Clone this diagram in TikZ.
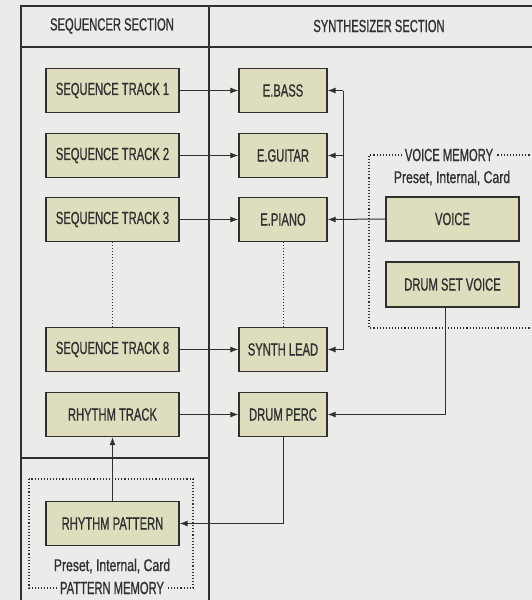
\documentclass[tikz,border=0pt]{standalone}
\usepackage{fontspec}
\setmainfont{Liberation Sans}[FakeStretch=0.64, FakeBold=0.8]
\newfontfamily\memfont{Liberation Sans}[FakeStretch=0.72, FakeBold=0.8]
\usepackage{tikz}
\usetikzlibrary{arrows.meta,calc}
\definecolor{paper}{RGB}{235,235,233}
\definecolor{boxfill}{RGB}{222,222,190}
\definecolor{ink}{RGB}{48,48,48}
\tikzstyle{unit}=[draw=ink, fill=boxfill, line width=1.3pt, minimum width=133pt, minimum height=44pt, inner sep=0pt, text=ink]
\tikzstyle{inst}=[unit, minimum width=88pt]
\tikzstyle{frame}=[draw=ink, line width=1.2pt]
\tikzstyle{wire}=[draw=ink, line width=1pt]
\tikzstyle{feed}=[wire, -{Latex[length=8pt,width=6pt]}]
\tikzstyle{memline}=[draw=ink, dotted, line width=1.1pt]
\tikzstyle{memtag}=[fill=paper, text=ink, inner sep=3pt]
\newcommand{\boxfont}{\fontsize{17.5}{20}\selectfont}

\begin{document}
\begin{tikzpicture}[x=1pt, y=-1pt, font=\boxfont]
	\useasboundingbox (0,0) rectangle (532,600);
	\clip (0,0) rectangle (532,600);
	\fill[paper] (0,0) rectangle (532,600);
	% frame and sections
	\draw[frame] (532,6) -- (21,6) -- (21,600);
	\draw[frame] (21,47) -- (532,47);
	\draw[frame] (209,6) -- (209,600);
	\draw[frame] (21,458) -- (209,458);
	\node[text=ink] (seqhead) at (112,26) {SEQUENCER SECTION};
	\node[text=ink] (synhead) at (379,26) {SYNTHESIZER SECTION};
	% memory areas
	\draw[memline] (545,155) -- (369,155) -- (369,328) -- (545,328);
	\node[memtag] (voicemem) at (449,155) {VOICE MEMORY};
	\node[text=ink, font=\memfont\fontsize{17}{20}\selectfont] (voicesrc) at (452,178) {Preset, Internal, Card};
	\draw[memline] (29,479) rectangle (193,588);
	\node[memtag] (patmem) at (112,588) {PATTERN MEMORY};
	\node[text=ink, font=\memfont\fontsize{17}{20}\selectfont] (patsrc) at (112,566) {Preset, Internal, Card};
	% sequencer tracks
	\node[unit] (seq1) at (112.5,90.5) {SEQUENCE TRACK 1};
	\node[unit] (seq2) at (112.5,155.5) {SEQUENCE TRACK 2};
	\node[unit] (seq3) at (112.5,219.5) {SEQUENCE TRACK 3};
	\node[unit] (seq8) at (112.5,349.5) {SEQUENCE TRACK 8};
	\node[unit] (rhythm) at (112.5,414.5) {RHYTHM TRACK};
	\node[unit] (pattern) at (112.5,523.5) {RHYTHM PATTERN};
	% synthesizer parts
	\node[inst] (ebass) at (283,90.5) {E.BASS};
	\node[inst] (eguitar) at (283,155.5) {E.GUITAR};
	\node[inst] (epiano) at (283,219.5) {E.PIANO};
	\node[inst] (synlead) at (283,349.5) {SYNTH LEAD};
	\node[inst] (perc) at (283,414.5) {DRUM PERC};
	\node[unit] (voice) at (452.5,219) {VOICE};
	\node[unit, minimum height=45pt] (drumset) at (452.5,284.5) {DRUM SET VOICE};
	% connections
	\draw[feed] (seq1) -- (ebass);
	\draw[feed] (seq2) -- (eguitar);
	\draw[feed] (seq3) -- (epiano);
	\draw[feed] (seq8) -- (synlead);
	\draw[feed] (rhythm) -- (perc);
	\draw[memline, line width=1pt] (seq3.south) -- (seq8.north);
	\draw[memline, line width=1pt] (epiano.south) -- (synlead.north);
	\coordinate (bus) at (343,0);
	\draw[wire] (ebass.east -| bus) -- (synlead.east -| bus);
	\draw[feed] (ebass.east -| bus) -- (ebass.east);
	\draw[feed] (eguitar.east -| bus) -- (eguitar.east);
	\draw[feed] (synlead.east -| bus) -- (synlead.east);
	\draw[feed] (voice.west) -- (epiano.east);
	\draw[feed] ([xshift=-7pt]drumset.south) |- (perc.east);
	\draw[feed] (perc.south) |- (pattern.east);
	\draw[feed] (pattern.north) -- (rhythm.south);
\end{tikzpicture}
\end{document}
